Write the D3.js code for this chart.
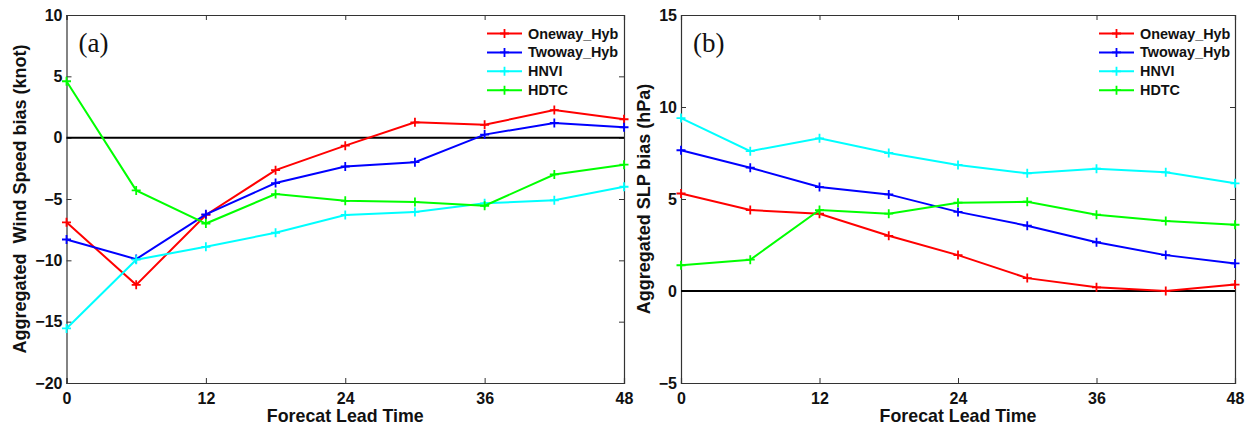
<!DOCTYPE html>
<html>
<head>
<meta charset="utf-8">
<script src="https://cdn.jsdelivr.net/npm/d3@7"></script>
<style>
  body { margin: 0; background: #fff; }
  text { font-family: "Liberation Sans", Arial, sans-serif; font-weight: bold; fill: #111; }
</style>
</head>
<body>
<script>
// Forecast lead times (hours)
var leadTimes = [0, 6, 12, 18, 24, 30, 36, 42, 48];
var seriesNames = ["Oneway_Hyb", "Twoway_Hyb", "HNVI", "HDTC"];
var seriesColors = ["#ff0000", "#0000ff", "#00ffff", "#00ff00"];

// (a) wind speed bias (knot)
var windOneway = [-6.9, -12.0, -6.3, -2.65, -0.65, 1.25, 1.05, 2.25, 1.5];
var windTwoway = [-8.3, -9.9, -6.25, -3.7, -2.35, -2.0, 0.25, 1.2, 0.85];
var windHNVI   = [-15.55, -9.95, -8.9, -7.75, -6.3, -6.05, -5.35, -5.1, -4.0];
var windHDTC   = [4.6, -4.3, -7.0, -4.6, -5.15, -5.25, -5.55, -3.0, -2.2];

// (b) SLP bias (hPa)
var slpOneway = [5.3, 4.4, 4.2, 3.0, 1.95, 0.7, 0.2, 0.0, 0.35];
var slpTwoway = [7.65, 6.7, 5.65, 5.25, 4.3, 3.55, 2.65, 1.95, 1.5];
var slpHNVI   = [9.4, 7.6, 8.3, 7.5, 6.85, 6.4, 6.65, 6.45, 5.85];
var slpHDTC   = [1.4, 1.7, 4.4, 4.2, 4.8, 4.85, 4.15, 3.8, 3.6];

var xTicks = [0, 12, 24, 36, 48];
var windTicks = [-20, -15, -10, -5, 0, 5, 10];
var slpTicks = [-5, 0, 5, 10, 15];

var width = 1250, height = 425;

var svg = d3.select("body").append("svg")
    .attr("width", width)
    .attr("height", height);

var panels = [
  { left: 66.5, right: 624, top: 15, bottom: 383, domain: [-20, 10], ticks: windTicks,
    series: [windOneway, windTwoway, windHNVI, windHDTC],
    tag: "(a)", ylabel: "Aggregated  Wind Speed bias (knot)", ylabelX: 26,
    legendX: 487 },
  { left: 681, right: 1235, top: 15, bottom: 383, domain: [-5, 15], ticks: slpTicks,
    series: [slpOneway, slpTwoway, slpHNVI, slpHDTC],
    tag: "(b)", ylabel: "Aggregated SLP bias (hPa)", ylabelX: 650,
    legendX: 1099 }
];

panels.forEach(drawPanel);

function drawPanel(p) {
  var x = d3.scaleLinear().domain([0, 48]).range([p.left, p.right]);
  var y = d3.scaleLinear().domain(p.domain).range([p.bottom, p.top]);
  var g = svg.append("g");
  var tick = 5;

  // axes with inward ticks on all four sides
  g.append("g").attr("transform", "translate(0," + p.bottom + ")")
    .call(d3.axisBottom(x).tickValues(xTicks).tickSize(-tick).tickPadding(10).tickFormat(d3.format("d")))
    .call(styleAxis);
  g.append("g").attr("transform", "translate(0," + p.top + ")")
    .call(d3.axisTop(x).tickValues(xTicks).tickSize(-tick).tickFormat(""))
    .call(styleAxis);
  g.append("g").attr("transform", "translate(" + p.left + ",0)")
    .call(d3.axisLeft(y).tickValues(p.ticks).tickSize(-tick).tickPadding(4)
      .tickFormat(function(d) { return d < 0 ? "\u2212" + Math.abs(d) : d; }))
    .call(styleAxis);
  g.append("g").attr("transform", "translate(" + p.right + ",0)")
    .call(d3.axisRight(y).tickValues(p.ticks).tickSize(-tick).tickFormat(""))
    .call(styleAxis);

  // zero line
  g.append("line")
    .attr("x1", p.left).attr("x2", p.right)
    .attr("y1", y(0)).attr("y2", y(0))
    .attr("stroke", "#000").attr("stroke-width", 2);

  var line = d3.line()
    .x(function(d, i) { return x(leadTimes[i]); })
    .y(function(d) { return y(d); });

  p.series.forEach(function(vals, k) {
    var s = g.append("g");
    s.append("path").datum(vals)
      .attr("d", line)
      .attr("fill", "none")
      .attr("stroke", seriesColors[k])
      .attr("stroke-width", 2);
    s.selectAll("path.mk").data(vals).enter().append("path")
      .attr("class", "mk")
      .attr("d", function(d, i) {
        var cx = x(leadTimes[i]), cy = y(d), r = 4.5;
        return "M" + (cx - r) + "," + cy + "H" + (cx + r) + "M" + cx + "," + (cy - r) + "V" + (cy + r);
      })
      .attr("stroke", seriesColors[k])
      .attr("stroke-width", 1.8);
  });

  // panel tag
  g.append("text")
    .attr("x", p.left + 12).attr("y", 52)
    .style("font-family", "'Liberation Serif', 'Times New Roman', serif")
    .style("font-weight", "normal")
    .style("font-size", "27px")
    .text(p.tag);

  // legend
  var leg = g.append("g").attr("transform", "translate(" + p.legendX + ",33.5)");
  seriesNames.forEach(function(name, k) {
    var row = leg.append("g").attr("transform", "translate(0," + (k * 18.9) + ")");
    row.append("line").attr("x1", 0).attr("x2", 35)
      .attr("stroke", seriesColors[k]).attr("stroke-width", 2);
    row.append("path").attr("d", "M17.5,-4.5V4.5M13,0H22")
      .attr("stroke", seriesColors[k]).attr("stroke-width", 1.8);
    row.append("text").attr("x", 41).attr("y", 5)
      .style("font-size", "14.4px").text(name);
  });

  // axis titles
  g.append("text")
    .attr("x", (p.left + p.right) / 2).attr("y", 421.5)
    .attr("text-anchor", "middle")
    .style("font-size", "17.8px")
    .text("Forecat Lead Time");
  g.append("text")
    .attr("transform", "translate(" + p.ylabelX + "," + ((p.top + p.bottom) / 2) + ") rotate(-90)")
    .attr("text-anchor", "middle")
    .style("font-size", "18px")
    .style("white-space", "pre")
    .text(p.ylabel);
}

function styleAxis(sel) {
  sel.select(".domain").attr("stroke", "#333").attr("stroke-width", 1.2);
  sel.selectAll(".tick line").attr("stroke", "#333");
  sel.selectAll(".tick text")
    .style("font-family", "'Liberation Sans', Arial, sans-serif")
    .style("font-weight", "bold")
    .style("font-size", "16px")
    .attr("fill", "#111");
}
</script>
</body>
</html>
